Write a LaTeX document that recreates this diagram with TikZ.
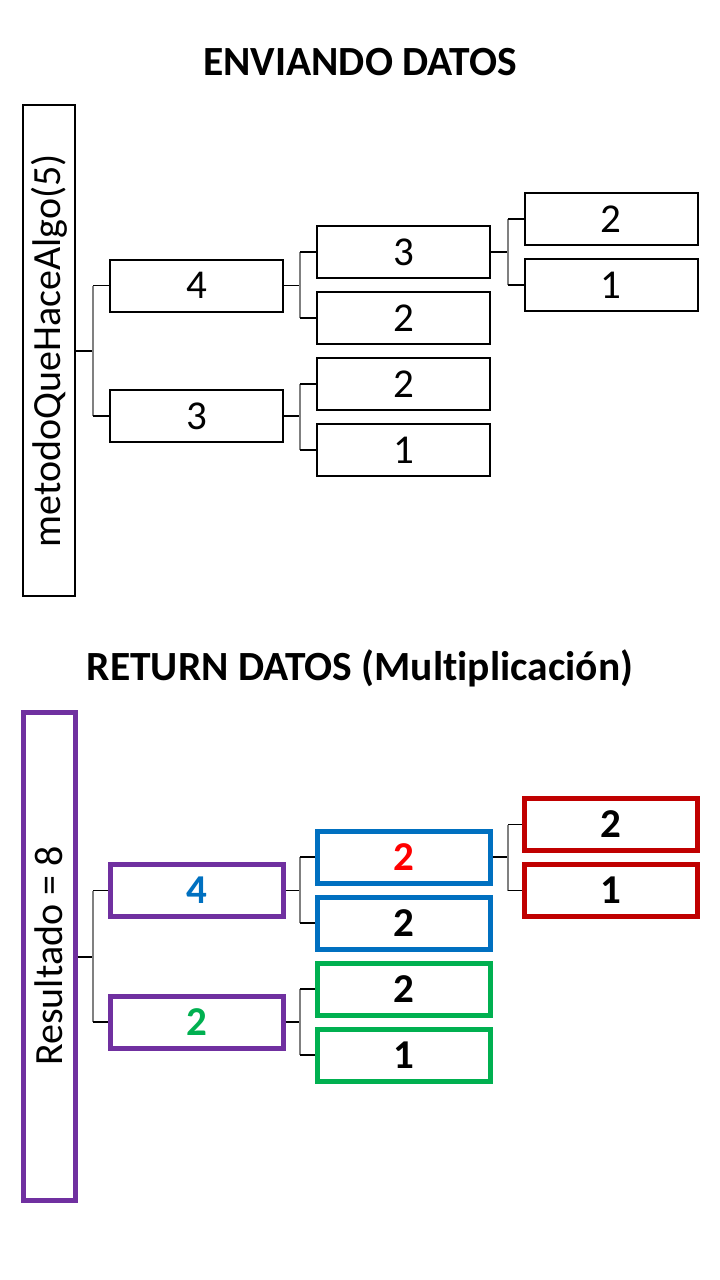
\documentclass[tikz,border=0pt]{standalone}
\usepackage{fontspec}
\setmainfont{Carlito}[Ligatures=NoCommon]
\definecolor{cpurple}{HTML}{7030A0}
\definecolor{cblue}{HTML}{0070C0}
\definecolor{cgreen}{HTML}{00B050}
\definecolor{cdred}{HTML}{C00000}
\definecolor{cred}{HTML}{FF0000}
\tikzset{
  plain/.style={draw=black,line width=2,minimum width=173,minimum height=52,inner sep=0,font=\fontsize{41}{44}\selectfont},
  bold/.style={line width=5,minimum width=173,minimum height=52,inner sep=0,font=\fontsize{41}{44}\selectfont\bfseries},
  tallbox/.style={line width=2,draw=black,minimum width=52,inner sep=0},
  talltext/.style={rotate=90,inner sep=0,font=\fontsize{40}{44}\selectfont},
  title/.style={font=\fontsize{41.5}{44}\selectfont\bfseries},
  conn/.style={line width=1.2,draw=black},
  connv/.style={line width=1.2,draw=black!50},
}
\begin{document}
\begin{tikzpicture}[x=1pt,y=-1pt]
\useasboundingbox (0,0) rectangle (720,1280);
% ---------- top ----------
\node[title] (t1) at (360,62) {ENVIANDO DATOS};
\node[tallbox,minimum height=491] (tall) at (49,350.5) {};
\node[talltext] (talltxt) at (tall.center) {metodoQueHaceAlgo(5)};
\node[plain] (a4) at (196.5,285.5) {4};
\node[plain] (a3) at (196.5,416) {3};
\node[plain] (b3) at (403.5,252) {3};
\node[plain] (b2) at (403.5,318) {2};
\node[plain] (b2b) at (403.5,384) {2};
\node[plain] (b1) at (403.5,450) {1};
\node[plain] (c2) at (611,219) {2};
\node[plain] (c1) at (611,285) {1};
\coordinate (j1) at (93,351);
\coordinate (j2) at (300,285.5);
\coordinate (j3) at (300,416);
\coordinate (j4) at (508,252);
\draw[conn] (tall.east |- j1) -- (j1);
\draw[connv] (j1 |- a4) -- (j1 |- a3);
\draw[conn] (j1 |- a4) -- (a4.west);
\draw[conn] (j1 |- a3) -- (a3.west);
\draw[conn] (a4.east) -- (j2);
\draw[connv] (j2 |- b3) -- (j2 |- b2);
\draw[conn] (j2 |- b3) -- (b3.west);
\draw[conn] (j2 |- b2) -- (b2.west);
\draw[conn] (a3.east) -- (j3);
\draw[connv] (j3 |- b2b) -- (j3 |- b1);
\draw[conn] (j3 |- b2b) -- (b2b.west);
\draw[conn] (j3 |- b1) -- (b1.west);
\draw[conn] (b3.east) -- (j4);
\draw[connv] (j4 |- c2) -- (j4 |- c1);
\draw[conn] (j4 |- c2) -- (c2.west);
\draw[conn] (j4 |- c1) -- (c1.west);
% ---------- bottom ----------
\node[title] (t2) at (360,668) {RETURN DATOS (Multiplicación)};
\node[tallbox,draw=cpurple,line width=5,minimum height=488] (rtall) at (49,956) {};
\node[talltext] (rtalltxt) at (rtall.center) {Resultado = 8};
\node[bold,draw=cpurple,text=cblue] (p4) at (196.5,890.5) {4};
\node[bold,draw=cpurple,text=cgreen] (p2) at (196.5,1022) {2};
\node[bold,draw=cblue,text=cred] (q2a) at (403.5,857) {2};
\node[bold,draw=cblue] (q2b) at (403.5,923) {2};
\node[bold,draw=cgreen] (q2c) at (403.5,989) {2};
\node[bold,draw=cgreen] (q1) at (403.5,1055) {1};
\node[bold,draw=cdred] (r2) at (611,824.5) {2};
\node[bold,draw=cdred] (r1) at (611,890.5) {1};
\coordinate (k1) at (93,957);
\coordinate (k2) at (300,890.5);
\coordinate (k3) at (300,1022);
\coordinate (k4) at (508,857);
\draw[conn] (rtall.east |- k1) -- (k1);
\draw[connv] (k1 |- p4) -- (k1 |- p2);
\draw[conn] (k1 |- p4) -- (p4.west);
\draw[conn] (k1 |- p2) -- (p2.west);
\draw[conn] (p4.east) -- (k2);
\draw[connv] (k2 |- q2a) -- (k2 |- q2b);
\draw[conn] (k2 |- q2a) -- (q2a.west);
\draw[conn] (k2 |- q2b) -- (q2b.west);
\draw[conn] (p2.east) -- (k3);
\draw[connv] (k3 |- q2c) -- (k3 |- q1);
\draw[conn] (k3 |- q2c) -- (q2c.west);
\draw[conn] (k3 |- q1) -- (q1.west);
\draw[conn] (q2a.east) -- (k4);
\draw[connv] (k4 |- r2) -- (k4 |- r1);
\draw[conn] (k4 |- r2) -- (r2.west);
\draw[conn] (k4 |- r1) -- (r1.west);
\end{tikzpicture}
\end{document}
